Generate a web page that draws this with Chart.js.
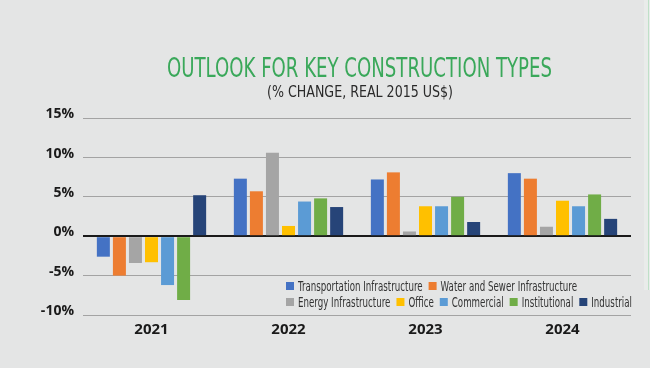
<!DOCTYPE html>
<html>
<head>
<meta charset="utf-8">
<script src="https://cdn.jsdelivr.net/npm/chart.js@4"></script>
<style>
  html, body { margin: 0; padding: 0; background: #ffffff; }
  #wrap { width: 650px; height: 383px; position: relative; }
</style>
</head>
<body>
<div id="wrap"><canvas id="chart"></canvas></div>
<script>
// Anos no eixo x
const years = ['2021', '2022', '2023', '2024'];

// Séries (% de variação, US$ reais de 2015)
const transportation = [-2.6, 7.3, 7.2, 8.0];
const waterSewer     = [-5.0, 5.7, 8.1, 7.3];
const energy         = [-3.4, 10.6, 0.6, 1.2];
const office         = [-3.3, 1.3, 3.8, 4.5];
const commercial     = [-6.2, 4.4, 3.8, 3.8];
const institutional  = [-8.1, 4.8, 5.0, 5.3];
const industrial     = [5.2, 3.7, 1.8, 2.2];

const seriesNames = [
    'Transportation Infrastructure', 'Water and Sewer Infrastructure',
    'Energy Infrastructure', 'Office', 'Commercial', 'Institutional', 'Industrial'
];
const seriesColors = ['#4472c4', '#ed7d31', '#a5a5a5', '#ffc000', '#5b9bd5', '#70ad47', '#264478'];
const seriesValues = [transportation, waterSewer, energy, office, commercial, institutional, industrial];

// Marcas do eixo y
const yTicks = [-10, -5, 0, 5, 10, 15];

const titleText = 'OUTLOOK FOR KEY CONSTRUCTION TYPES';
const subtitleText = '(% CHANGE, REAL 2015 US$)';

const narrow = "'DejaVu Sans Condensed', 'Roboto', sans-serif";

// Desenha texto comprimido na horizontal para caber numa largura
function drawNarrowText(ctx, text, left, y, width, font, color) {
    ctx.save();
    ctx.font = font;
    const w = ctx.measureText(text).width;
    const sx = width / w;
    ctx.translate(left, y);
    ctx.scale(sx, 1);
    ctx.fillStyle = color;
    ctx.textAlign = 'left';
    ctx.textBaseline = 'alphabetic';
    ctx.fillText(text, 0, 0);
    ctx.restore();
}

// Fundo cinza, faixa lateral e títulos
const backgroundPlugin = {
    id: 'background',
    beforeDraw(chart) {
        const ctx = chart.ctx;
        ctx.save();
        ctx.fillStyle = '#e4e5e5';
        ctx.fillRect(0, 0, 650, 368);
        ctx.fillStyle = '#e9ecea';
        ctx.fillRect(644, 0, 6, 290);
        ctx.fillStyle = '#bfe0c8';
        ctx.fillRect(648, 0, 1, 290);
        ctx.restore();
        drawNarrowText(ctx, titleText, 167, 77, 385, '26px ' + narrow, '#3aa85a');
        drawNarrowText(ctx, subtitleText, 267, 97, 186, '16px ' + narrow, '#2a2a2a');
    }
};

// Legenda em duas linhas dentro da área do gráfico
const legendPlugin = {
    id: 'twoRowLegend',
    afterDraw(chart) {
        const ctx = chart.ctx;
        const rows = [[0, 1], [2, 3, 4, 5, 6]];
        const startX = 286;
        const endX = 632;
        const rowY = [286, 302];
        const box = 8, boxGap = 4, itemGap = 6;
        ctx.save();
        ctx.font = '14px ' + narrow;
        ctx.textBaseline = 'middle';
        // escala horizontal calculada para a segunda linha caber até endX
        const row2 = rows[1];
        const textW = row2.reduce((s, i) => s + ctx.measureText(chart.data.datasets[i].label).width, 0);
        const sx = (endX - startX - row2.length * (box + boxGap) - (row2.length - 1) * itemGap) / textW;
        rows.forEach((row, r) => {
            let x = startX;
            row.forEach(i => {
                const ds = chart.data.datasets[i];
                ctx.fillStyle = ds.backgroundColor;
                ctx.fillRect(x, rowY[r] - 4, box, box);
                x += box + boxGap;
                ctx.save();
                ctx.translate(x, rowY[r] + 1);
                ctx.scale(sx, 1);
                ctx.fillStyle = '#333333';
                ctx.fillText(ds.label, 0, 0);
                ctx.restore();
                x += ctx.measureText(ds.label).width * sx + itemGap;
            });
        });
        ctx.restore();
    }
};

new Chart(document.getElementById('chart'), {
    type: 'bar',
    data: {
        labels: years,
        datasets: seriesNames.map((name, i) => ({
            label: name,
            data: seriesValues[i],
            backgroundColor: seriesColors[i],
            categoryPercentage: 0.82,
            barPercentage: 0.81
        }))
    },
    options: {
        responsive: true,
        maintainAspectRatio: false,
        animation: false,
        layout: { padding: { left: 0, right: 19, top: 118, bottom: 46 } },
        plugins: {
            legend: { display: false },
            tooltip: { enabled: false },
            title: { display: false }
        },
        scales: {
            x: {
                grid: { display: false },
                border: { display: false },
                ticks: {
                    color: '#1a1a1a',
                    font: { family: "'Open Sans', sans-serif", size: 15, weight: 'bold' },
                    padding: -2
                }
            },
            y: {
                min: -10,
                max: 15,
                afterBuildTicks(scale) {
                    scale.ticks = yTicks.map(v => ({ value: v }));
                },
                afterFit(scale) { scale.width = 83; },
                border: { display: false },
                grid: {
                    drawTicks: false,
                    color: ctx => ctx.tick && ctx.tick.value === 0 ? '#1a1a1a' : '#a3a3a3',
                    lineWidth: ctx => ctx.tick && ctx.tick.value === 0 ? 2 : 1
                },
                ticks: {
                    color: '#1a1a1a',
                    padding: 9,
                    font: { family: "'Open Sans', sans-serif", size: 14, weight: 'bold', lineHeight: 0.55 },
                    // linha vazia extra sobe o rótulo um pouco acima da grade
                    callback: v => [v + '%', '']
                }
            }
        }
    },
    plugins: [backgroundPlugin, legendPlugin]
});
</script>
</body>
</html>
